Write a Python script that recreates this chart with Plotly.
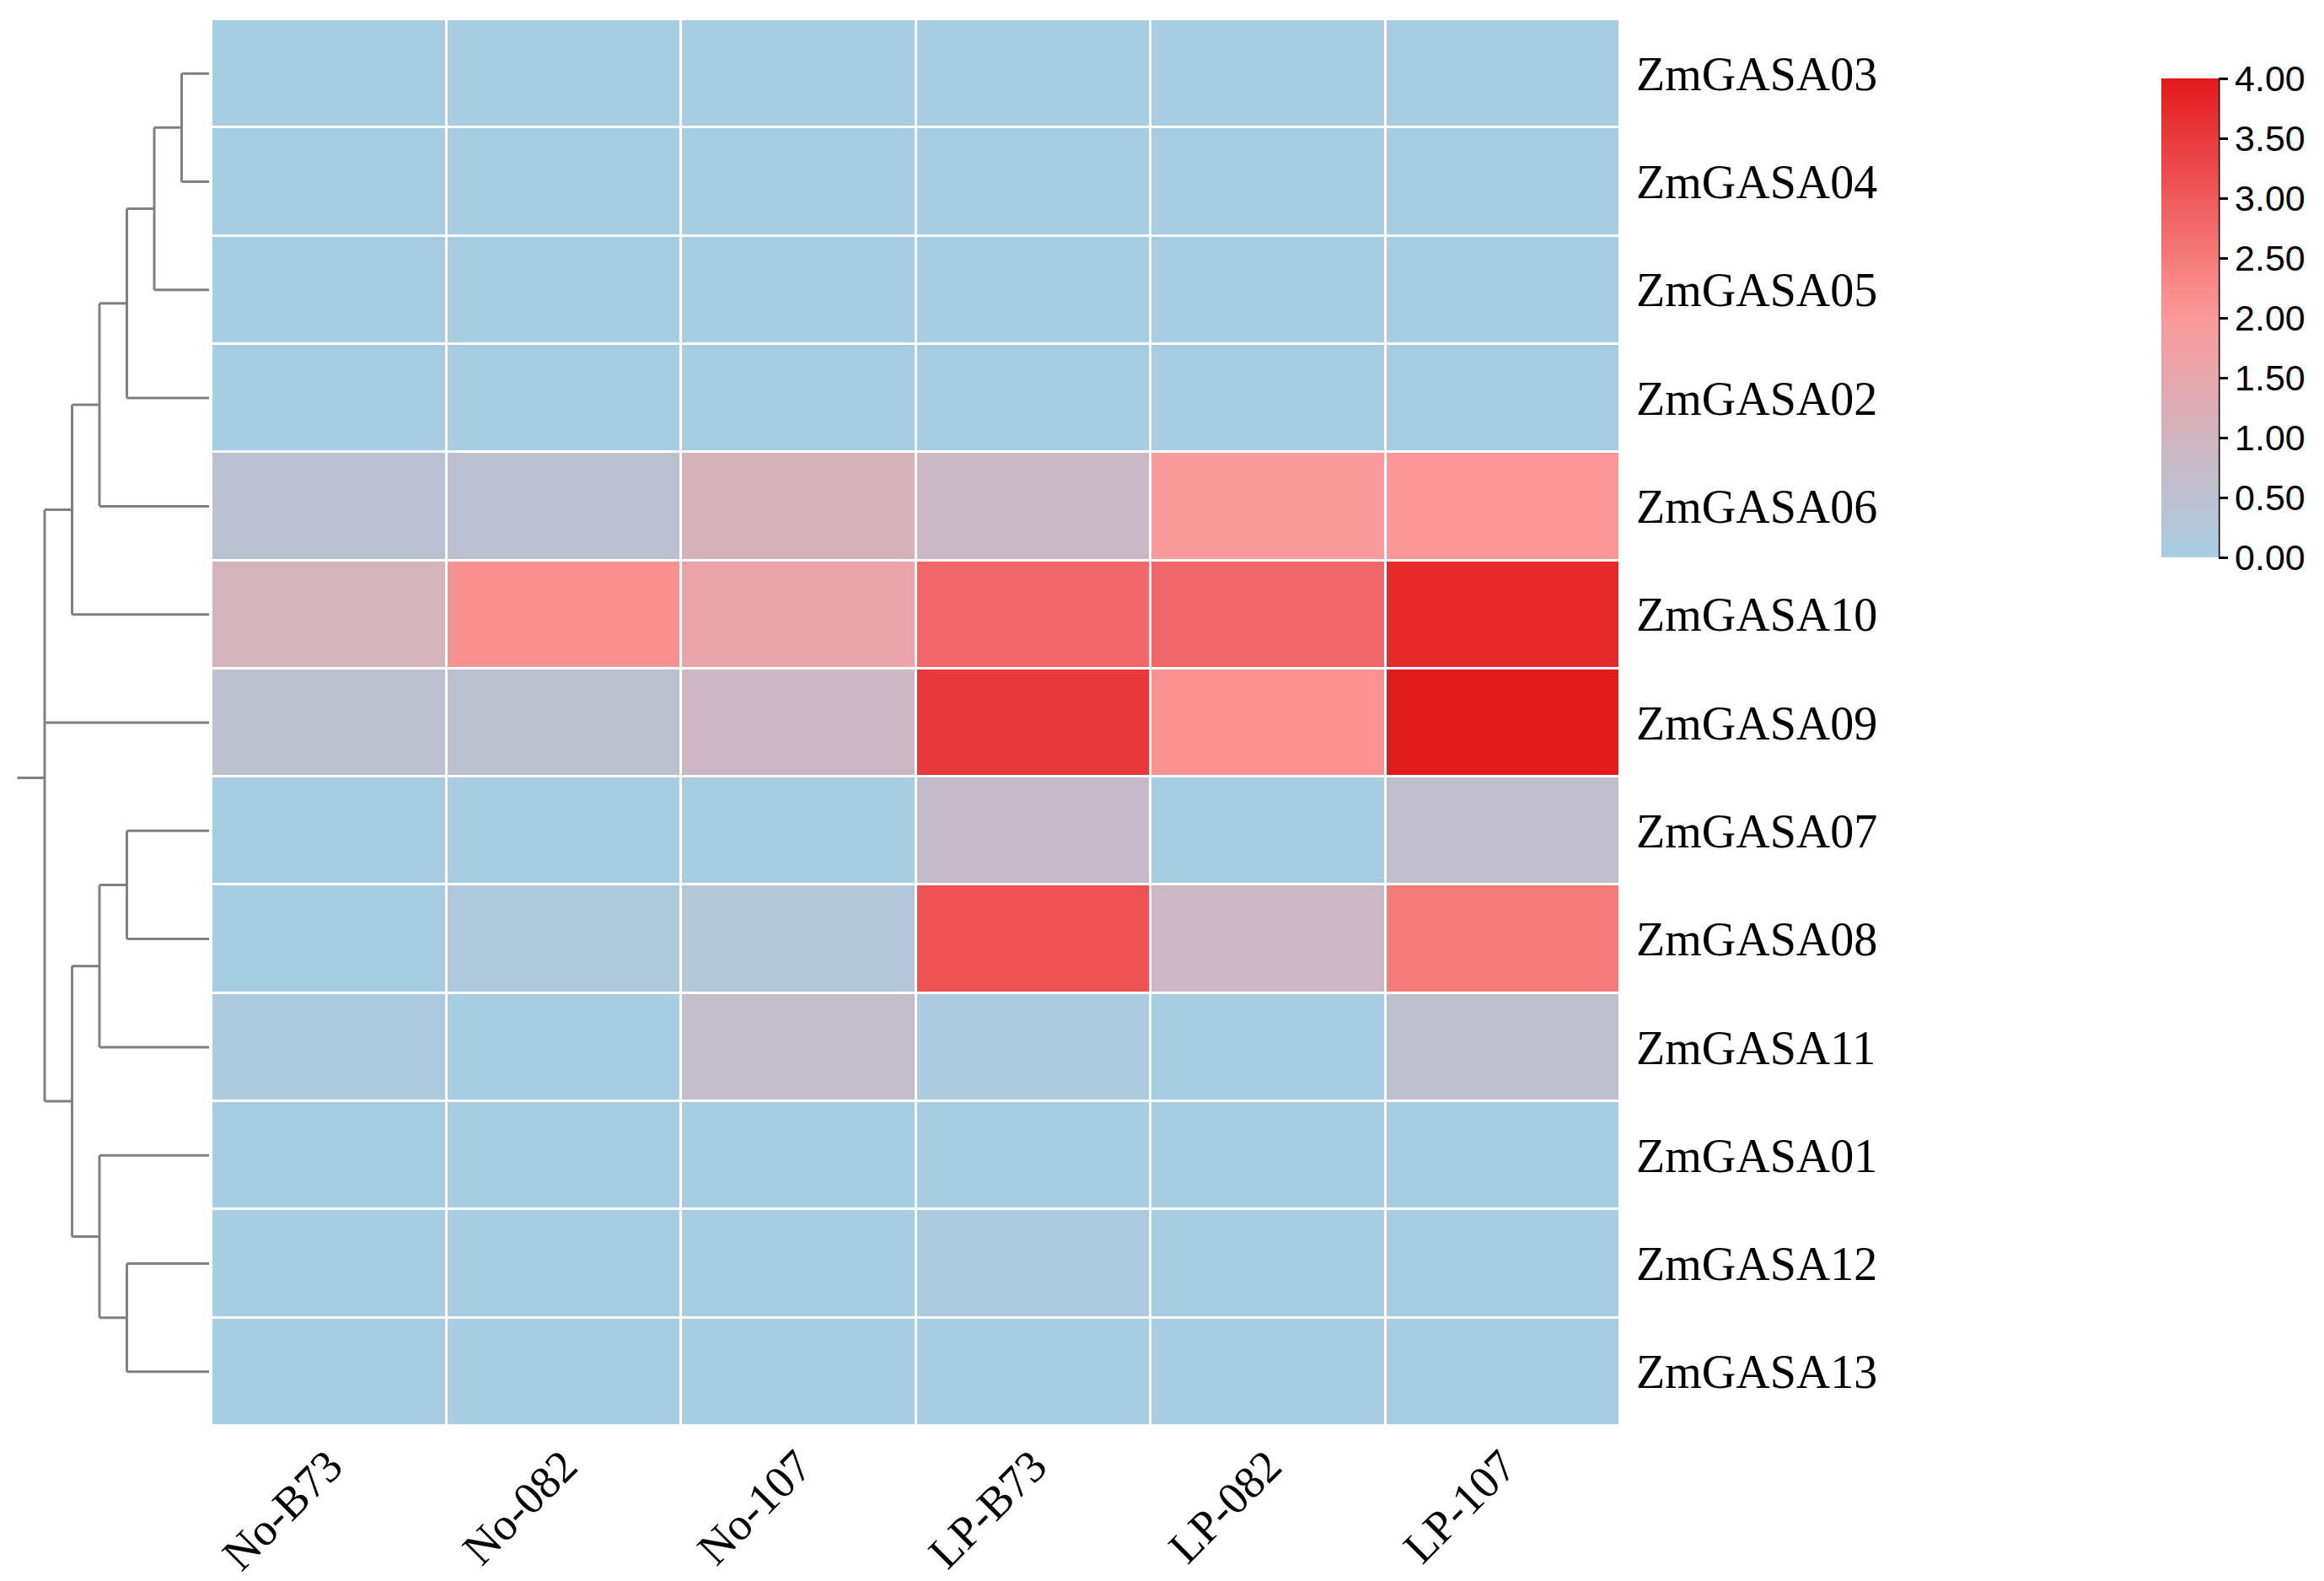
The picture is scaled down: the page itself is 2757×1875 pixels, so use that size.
import plotly.graph_objects as go

# ---------------- data ----------------
col_labels = ["No-B73", "No-082", "No-107", "LP-B73", "LP-082", "LP-107"]
row_labels = ["ZmGASA03", "ZmGASA04", "ZmGASA05", "ZmGASA02", "ZmGASA06",
              "ZmGASA10", "ZmGASA09", "ZmGASA07", "ZmGASA08", "ZmGASA11",
              "ZmGASA01", "ZmGASA12", "ZmGASA13"]

ZmGASA03 = [0.02, 0.02, 0.02, 0.02, 0.03, 0.02]
ZmGASA04 = [0.02, 0.02, 0.02, 0.03, 0.03, 0.02]
ZmGASA05 = [0.02, 0.02, 0.02, 0.02, 0.03, 0.02]
ZmGASA02 = [0.02, 0.02, 0.02, 0.02, 0.03, 0.02]
ZmGASA06 = [0.45, 0.52, 1.10, 0.85, 1.95, 2.05]
ZmGASA10 = [1.05, 2.15, 1.60, 2.80, 2.80, 3.75]
ZmGASA09 = [0.55, 0.55, 0.87, 3.53, 2.12, 4.00]
ZmGASA07 = [0.02, 0.02, 0.02, 0.72, 0.02, 0.60]
ZmGASA08 = [0.01, 0.18, 0.28, 3.12, 0.87, 2.50]
ZmGASA11 = [0.14, 0.01, 0.68, 0.14, 0.02, 0.56]
ZmGASA01 = [0.01, 0.01, 0.01, 0.02, 0.01, 0.01]
ZmGASA12 = [0.05, 0.02, 0.02, 0.14, 0.02, 0.02]
ZmGASA13 = [0.02, 0.02, 0.02, 0.02, 0.02, 0.02]

values = [ZmGASA03, ZmGASA04, ZmGASA05, ZmGASA02, ZmGASA06, ZmGASA10,
          ZmGASA09, ZmGASA07, ZmGASA08, ZmGASA11, ZmGASA01, ZmGASA12, ZmGASA13]

# dendrogram merges: (children, height)
merges = {
    "n0": (["ZmGASA03", "ZmGASA04"], 1),
    "n1": (["n0", "ZmGASA05"], 2),
    "n2": (["n1", "ZmGASA02"], 3),
    "n3": (["n2", "ZmGASA06"], 4),
    "n4": (["n3", "ZmGASA10"], 5),
    "n5": (["ZmGASA07", "ZmGASA08"], 3),
    "n6": (["n5", "ZmGASA11"], 4),
    "n7": (["ZmGASA12", "ZmGASA13"], 3),
    "n8": (["ZmGASA01", "n7"], 4),
    "n9": (["n6", "n8"], 5),
    "root": (["n4", "ZmGASA09", "n9"], 6),
}
root_stub_height = 7

colorscale = [[0.0, "#A6CEE3"], [0.5, "#FB9A99"], [1.0, "#E31A1C"]]
cbar_ticks = [0, 0.5, 1, 1.5, 2, 2.5, 3, 3.5, 4]

# ---------------- figure ----------------
W, H = 2757, 1875
hm_x0, hm_x1 = 251 / W, 1922 / W
hm_y0, hm_y1 = 1 - 1691 / H, 1 - 23 / H

fig = go.Figure()

fig.add_trace(go.Heatmap(
    z=values, x=col_labels, y=list(range(len(row_labels))),
    zmin=0, zmax=4, colorscale=colorscale, xgap=3, ygap=3,
    xaxis="x", yaxis="y",
    colorbar=dict(
        x=2564 / W, xanchor="left", y=1 - 377 / H, yanchor="middle",
        len=568 / H, lenmode="fraction", thickness=68, thicknessmode="pixels",
        xpad=0, ypad=0, outlinewidth=0,
        ticks="outside", ticklen=11, tickwidth=3, tickcolor="black",
        tickvals=cbar_ticks, ticktext=["%.2f" % t for t in cbar_ticks],
        tickfont=dict(family="Liberation Sans, Arial", size=43, color="black"),
    ),
))

# dendrogram geometry from merges
ypos = {name: i for i, name in enumerate(row_labels)}
hgt = {name: 0 for name in row_labels}
dx, dy = [], []
for name, (children, h) in merges.items():
    cys = [ypos[c] for c in children]
    ypos[name] = sum(cys) / len(cys)
    hgt[name] = h
    dx += [h, h, None]
    dy += [min(cys), max(cys), None]
    for c in children:
        dx += [hgt[c], h, None]
        dy += [ypos[c], ypos[c], None]
dx += [merges["root"][1], root_stub_height, None]
dy += [ypos["root"], ypos["root"], None]

fig.add_trace(go.Scatter(
    x=dx, y=dy, mode="lines", xaxis="x2", yaxis="y",
    line=dict(color="#808080", width=3), hoverinfo="skip", showlegend=False,
))

fig.add_shape(type="line", xref="paper", yref="paper",
              x0=(2564 + 68) / W, x1=(2564 + 68) / W,
              y0=1 - 661 / H, y1=1 - 93 / H,
              line=dict(color="black", width=3))

fig.update_layout(
    width=W, height=H, margin=dict(l=0, r=0, t=0, b=0),
    paper_bgcolor="white", plot_bgcolor="white", showlegend=False,
    xaxis=dict(domain=[hm_x0, hm_x1], anchor="y", tickangle=-45,
               showgrid=False, zeroline=False, showline=False, ticks="",
               ticklabelstandoff=4,
               tickfont=dict(family="Liberation Serif, Times New Roman", size=54, color="black")),
    yaxis=dict(domain=[hm_y0, hm_y1], anchor="x", side="right",
               range=[len(row_labels) - 0.5, -0.5],
               tickvals=list(range(len(row_labels))), ticktext=row_labels,
               showgrid=False, zeroline=False, showline=False, ticks="",
               ticklabelstandoff=18,
               tickfont=dict(family="Liberation Serif, Times New Roman", size=56, color="black")),
    xaxis2=dict(domain=[0, hm_x0], anchor="y", range=[7.63, -0.092],
                showgrid=False, zeroline=False, showline=False,
                showticklabels=False, ticks=""),
)

fig.write_html("out.html", config={"displayModeBar": False},
               post_script="document.body.style.margin='0';")
